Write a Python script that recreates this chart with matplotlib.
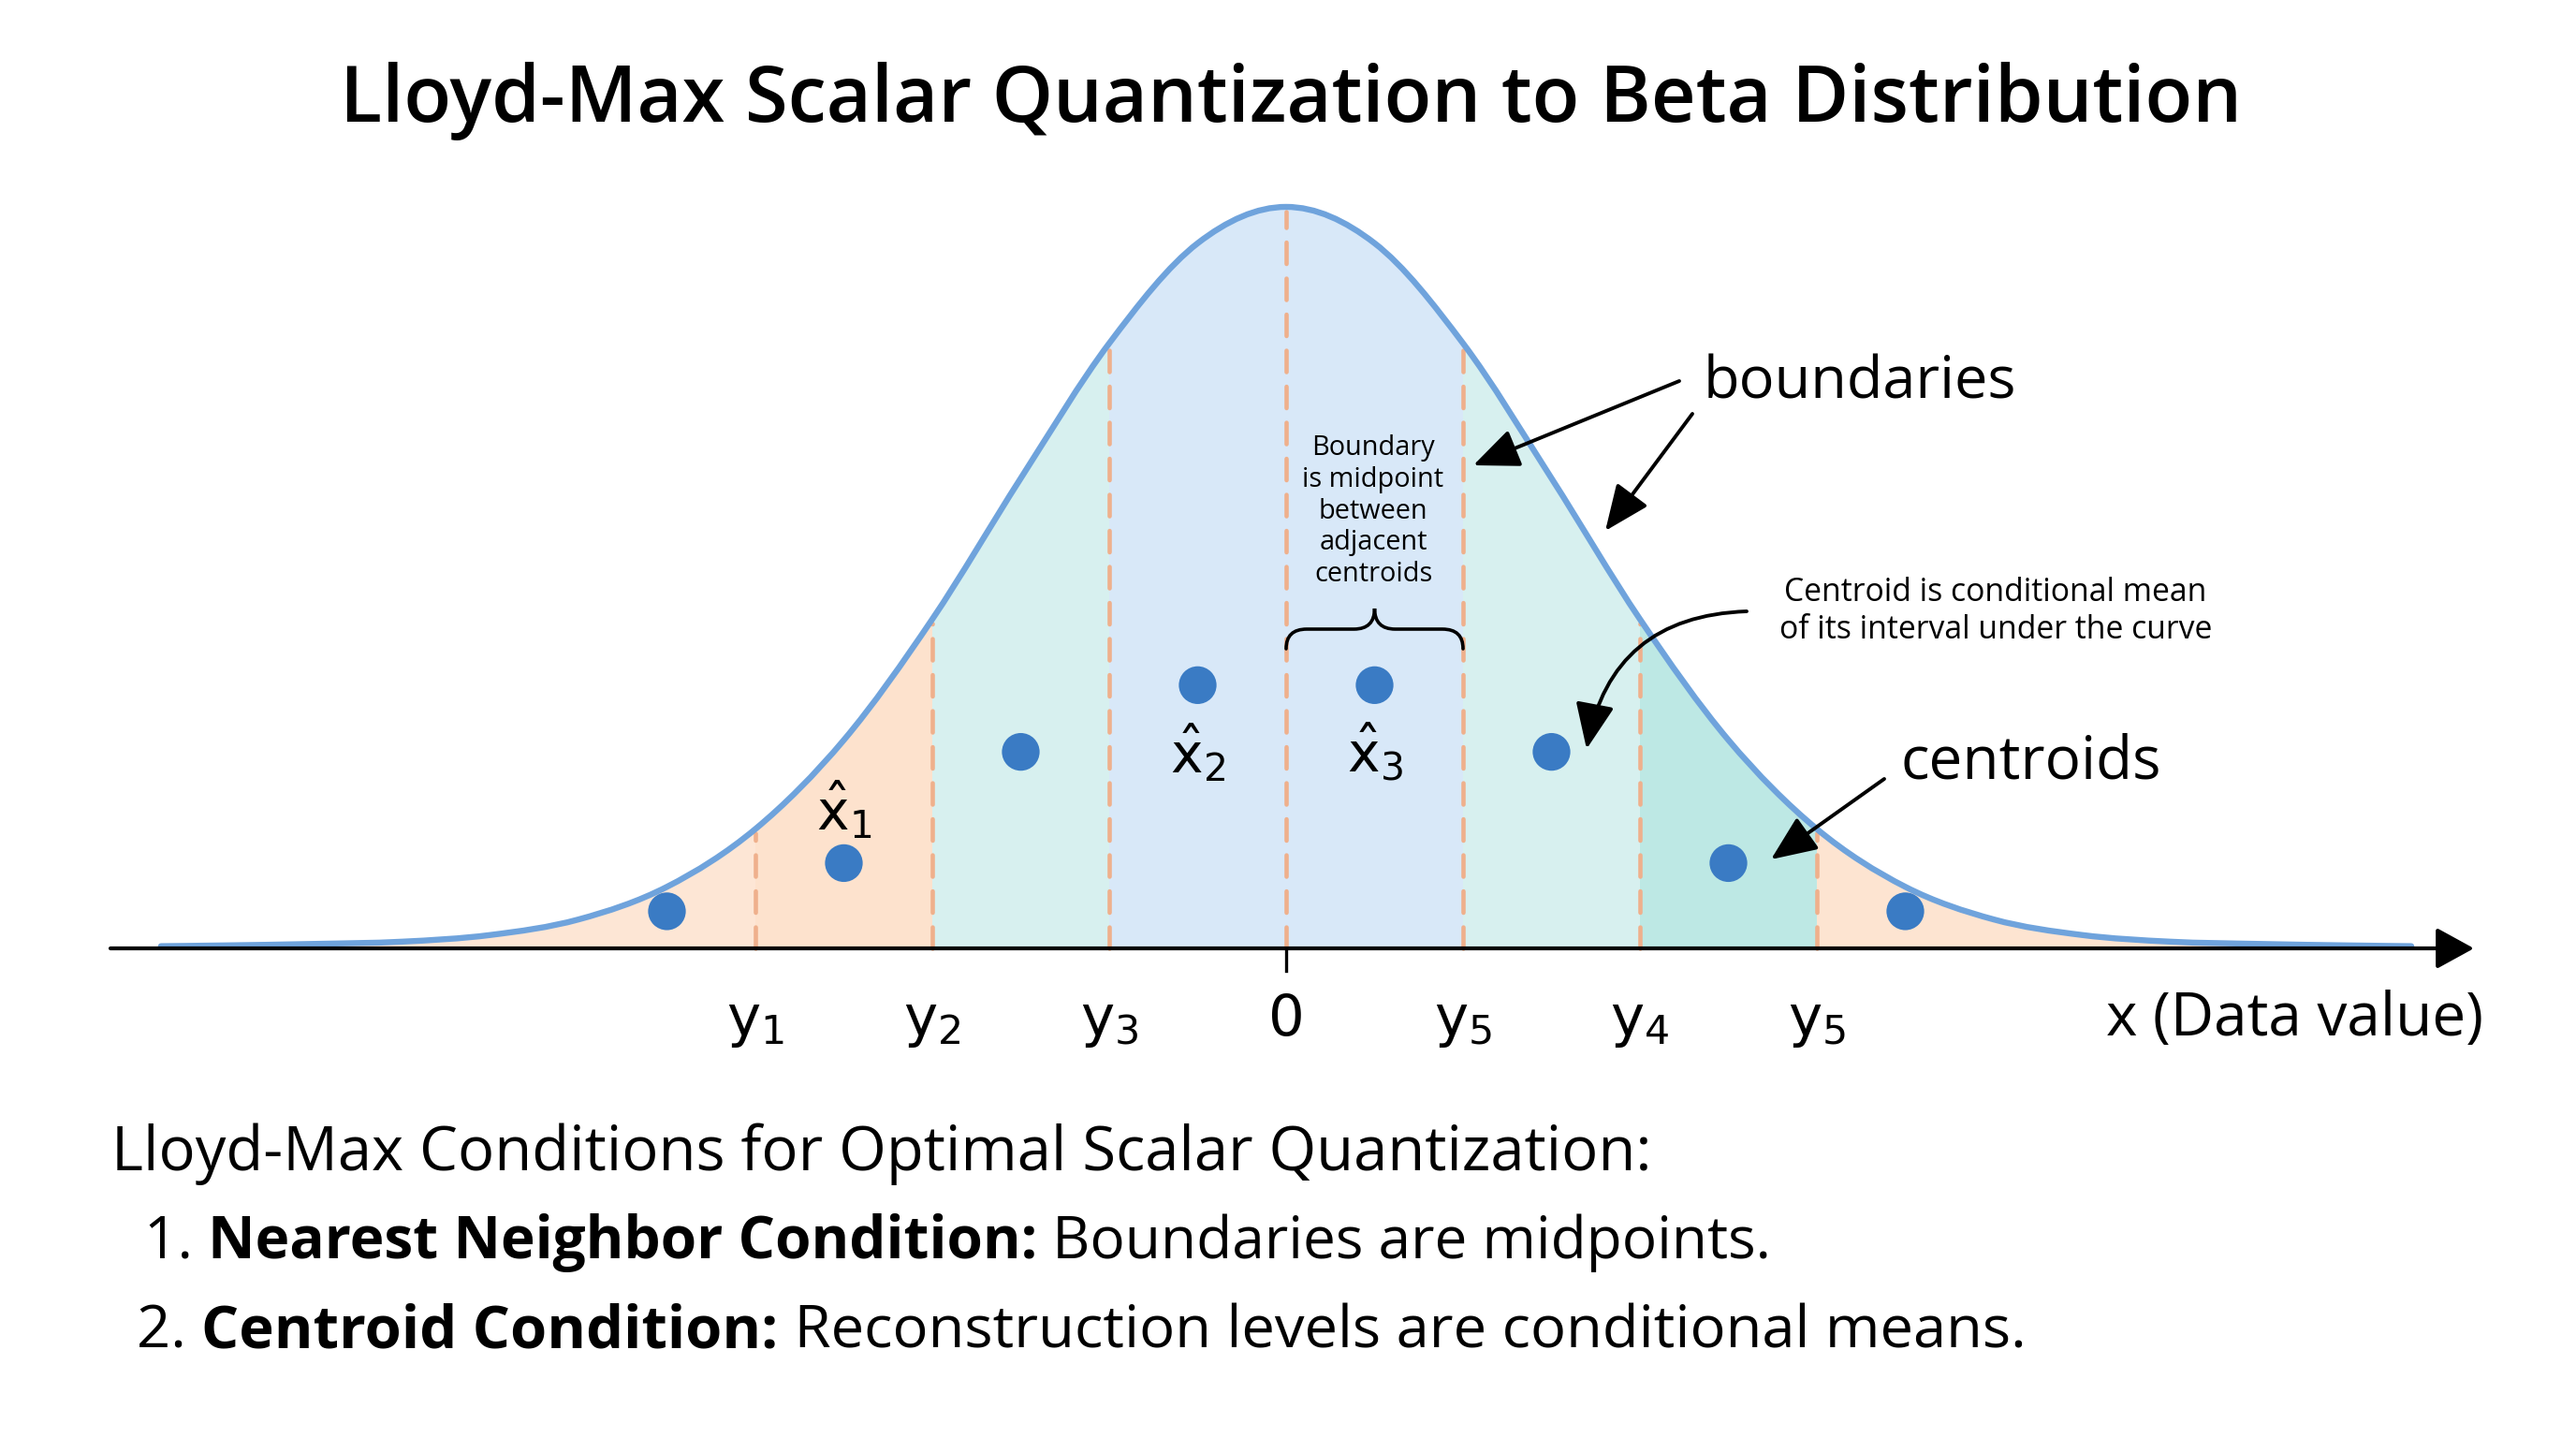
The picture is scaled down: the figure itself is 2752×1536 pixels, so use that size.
import numpy as np
import matplotlib
matplotlib.use("Agg")
import matplotlib.pyplot as plt
from matplotlib.path import Path
from matplotlib.patches import PathPatch

# ---------------- data ----------------
curve_x = [-6.36, -6.0, -5.5, -5.0, -4.5, -4.0, -3.5, -3.0, -2.5, -2.0, -1.5, -1.0, -0.5,
           0.0, 0.5, 1.0, 1.5, 2.0, 2.5, 3.0, 3.5, 4.0, 4.5, 5.0, 5.5, 6.0, 6.36]
curve_h = [0.003, 0.004, 0.006, 0.009, 0.018, 0.039, 0.083, 0.161, 0.281, 0.444, 0.634, 0.816, 0.951,
           1.0, 0.951, 0.816, 0.634, 0.444, 0.281, 0.161, 0.083, 0.039, 0.018, 0.009, 0.006, 0.004, 0.003]

boundaries = [-3, -2, -1, 0, 1, 2, 3]
boundary_labels = [r"$\mathrm{y}_1$", r"$\mathrm{y}_2$", r"$\mathrm{y}_3$", "0",
                   r"$\mathrm{y}_5$", r"$\mathrm{y}_4$", r"$\mathrm{y}_5$"]

centroid_x = [-3.5, -2.5, -1.5, -0.5, 0.5, 1.5, 2.5, 3.5]
centroid_h = [0.05, 0.115, 0.265, 0.355, 0.355, 0.265, 0.115, 0.05]
centroid_labels = {1: r"$\hat{\mathrm{x}}_1$", 3: r"$\hat{\mathrm{x}}_2$", 4: r"$\hat{\mathrm{x}}_3$"}

region_edges = [-6.36, -3, -2, -1, 0, 1, 2, 3, 6.36]
region_colors = ["#fde6d5", "#fde2cd", "#d7f0ef", "#d8e8f8", "#d8e8f8", "#d7f0ef", "#bde8e4", "#fde4d1"]

title = "Lloyd-Max Scalar Quantization to Beta Distribution"
cond_header = "Lloyd-Max Conditions for Optimal Scalar Quantization:"
cond_lines = [
    [("1. ", "normal"), ("Nearest Neighbor Condition:", "bold"), (" Boundaries are midpoints.", "normal")],
    [("2. ", "normal"), ("Centroid Condition:", "bold"), (" Reconstruction levels are conditional means.", "normal")],
]

# ---------------- styles ----------------
FONT = "Open Sans"
plt.rcParams["font.family"] = [FONT, "DejaVu Sans"]
plt.rcParams["mathtext.fontset"] = "dejavusans"
CURVE_C = "#6fa3dc"
DOT_C = "#3a7bc4"
DASH_C = "#efb08c"

W, H = 2752, 1536
fig = plt.figure(figsize=(W / 100, H / 100), dpi=100)
ax = fig.add_axes([0, 0, 1, 1])
X0, SX = 1374, 189.0  # pixel of x=0, pixels per unit
Y0, SY = 1013, 792.0  # pixel row of axis, pixels per unit height
ax.set_xlim(-X0 / SX, (W - X0) / SX)
ax.set_ylim(-(H - Y0) / SY, Y0 / SY)
ax.axis("off")


def P(px, py):
    """full-image pixel (x, y from top) -> data coords"""
    return (px - X0) / SX, (Y0 - py) / SY


renderer = fig.canvas.get_renderer()


def fit(t, target):
    for _ in range(4):
        bb = t.get_window_extent(renderer)
        t.set_fontsize(t.get_fontsize() * target / bb.width)
    return t


# ---------------- curve path (smooth through read points) ----------------
pts = np.column_stack([curve_x, curve_h])
n = len(pts)
verts = [tuple(pts[0])]
codes = [Path.MOVETO]
for i in range(n - 1):
    p0 = pts[i - 1] if i > 0 else pts[i]
    p1, p2 = pts[i], pts[i + 1]
    p3 = pts[i + 2] if i + 2 < n else pts[i + 1]
    c1 = p1 + (p2 - p0) / 6.0
    c2 = p2 - (p3 - p1) / 6.0
    verts += [tuple(c1), tuple(c2), tuple(p2)]
    codes += [Path.CURVE4] * 3
curve_path = Path(verts, codes)
area_path = Path(verts + [(curve_x[-1], 0), (curve_x[0], 0), (curve_x[0], 0)],
                 codes + [Path.LINETO, Path.LINETO, Path.CLOSEPOLY])
area = PathPatch(area_path, facecolor="none", edgecolor="none")
ax.add_patch(area)

for i, col in enumerate(region_colors):
    sp = ax.axvspan(region_edges[i], region_edges[i + 1], color=col, lw=0, zorder=1)
    sp.set_clip_path(area)

# boundary dashed lines
for b in boundaries:
    top = np.interp(b, curve_x, curve_h)
    ax.plot([b, b], [0, top - 0.006], color=DASH_C, lw=3.3, zorder=2,
            linestyle=(0, (5.0, 3.4)), dash_capstyle="round")

ax.add_patch(PathPatch(curve_path, facecolor="none", edgecolor=CURVE_C, lw=4.6,
                       capstyle="round", zorder=3))

# x axis with arrow
ax.annotate("", xy=(P(2643, 0)[0], 0), xytext=(P(118, 0)[0], 0),
            arrowprops=dict(arrowstyle="-|>,head_length=0.62,head_width=0.34", lw=3.0,
                            color="black", mutation_scale=40, shrinkA=0, shrinkB=0),
            zorder=5)
ax.plot([0, 0], [0, -24 / SY], color="black", lw=2.4, zorder=5)

# centroids
ax.scatter(centroid_x, centroid_h, s=29 ** 2, color=DOT_C, edgecolor="none", zorder=6)

# tick labels
for b, lab in zip(boundaries, boundary_labels):
    ax.text(b, P(0, 1106)[1], lab, ha="center", va="baseline", fontsize=44,
            family="DejaVu Sans" if lab == "0" else None, zorder=7)

# centroid labels
lab_pos = {1: 886, 3: 825, 4: 825}
for i, lab in centroid_labels.items():
    ax.text(centroid_x[i], P(0, lab_pos[i])[1], lab, ha="center", va="baseline",
            fontsize=42, zorder=7)

# x axis label
t = ax.text(P(2452, 0)[0], P(0, 1106)[1], "x (Data value)", ha="center", va="baseline", fontsize=40)
fit(t, 404)

# title
t = ax.text(P(1379, 0)[0], P(0, 130)[1], title, ha="center", va="baseline",
            fontsize=55, fontweight="semibold")
fit(t, 2032)

# boundaries / centroids labels + arrows
t = ax.text(*P(1820, 426), "boundaries", ha="left", va="baseline", fontsize=44)
fit(t, 335)
t = ax.text(*P(2030, 832), "centroids", ha="left", va="baseline", fontsize=44)
fit(t, 279)

arrow_kw = dict(arrowstyle="-|>,head_length=0.75,head_width=0.32", lw=2.8, color="black",
                mutation_scale=40, shrinkA=0, shrinkB=0)
ax.annotate("", xy=P(1574, 497), xytext=P(1794, 407), arrowprops=arrow_kw, zorder=8)
ax.annotate("", xy=P(1715, 567), xytext=P(1808, 442), arrowprops=arrow_kw, zorder=8)
ax.annotate("", xy=P(1892, 918), xytext=P(2013, 832), arrowprops=arrow_kw, zorder=8)
ax.annotate("", xy=P(1695, 800), xytext=P(1866, 653),
            arrowprops=dict(arrow_kw, connectionstyle="arc3,rad=0.4"), zorder=8)

t = ax.text(*P(2132, 653), "Centroid is conditional mean\nof its interval under the curve",
            ha="center", va="center", fontsize=22, linespacing=1.25)
fit(t, 463)

t = ax.text(*P(1467, 546), "Boundary\nis midpoint\nbetween\nadjacent\ncentroids",
            ha="center", va="center", fontsize=20, linespacing=1.22)
fit(t, 151)

# curly brace spanning boundary 0 .. y5
bl, br = boundaries[3], boundaries[4]
bc = (bl + br) / 2
hb, hm, ht = P(0, 693)[1], P(0, 672)[1], P(0, 650)[1]
r = 22 / SX
bv = [(bl, hb), (bl, hm), (bl + r, hm), (bc - r, hm), (bc, hm), (bc, ht),
      (bc, hm), (bc + r, hm), (br - r, hm), (br, hm), (br, hb)]
bcodes = [Path.MOVETO, Path.CURVE3, Path.CURVE3, Path.LINETO, Path.CURVE3, Path.CURVE3,
          Path.CURVE3, Path.CURVE3, Path.LINETO, Path.CURVE3, Path.CURVE3]
ax.add_patch(PathPatch(Path(bv, bcodes), facecolor="none", edgecolor="black", lw=2.6,
                       capstyle="round", zorder=8))

# conditions text
t = ax.text(*P(119, 1250), cond_header, ha="left", va="baseline", fontsize=40)
fit(t, 1645)

line_specs = [(154, 1344, 1738), (146, 1439, 2018)]
for parts, (lx, by, tw) in zip(cond_lines, line_specs):
    fs = 40.0
    for _ in range(4):
        for a in list(ax.texts):
            if getattr(a, "_cond", False):
                a.remove()
        xcur = lx
        xs = []
        for s, wgt in parts:
            tt = ax.text(*P(xcur, by), s, ha="left", va="baseline", fontsize=fs, fontweight=wgt)
            tt._cond = True
            bb = tt.get_window_extent(renderer)
            xcur += bb.width
            xs.append(tt)
        total = xcur - lx
        fs *= tw / total
    for a in xs:
        a._cond = False

fig.savefig("out.png", dpi=100, facecolor="white")
